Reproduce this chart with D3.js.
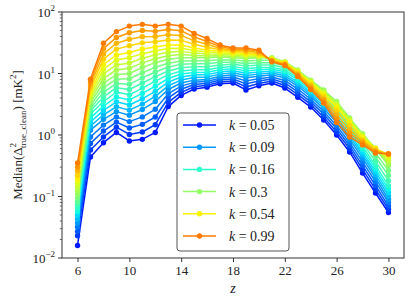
<!DOCTYPE html>
<html>
<head>
<meta charset="utf-8">
<script src="https://cdn.jsdelivr.net/npm/d3@7"></script>
<style>
  body { margin: 0; background: #fff; }
  svg { display: block; }
  text { font-family: "Liberation Serif", "DejaVu Serif", serif; fill: #222; }
</style>
</head>
<body>
<svg id="chart" width="411" height="303"></svg>
<script>
"use strict";

// redshift bins (x axis)
const zValues = [6, 7, 8, 9, 10, 11, 12, 13, 14, 15, 16, 17, 18, 19, 20, 21, 22, 23, 24, 25, 26, 27, 28, 29, 30];

// k bins, one line each (legend shows every 4th)
const kValues = [0.05, 0.058, 0.067, 0.078, 0.09, 0.105, 0.122, 0.142, 0.16, 0.19, 0.22,
                 0.26, 0.3, 0.35, 0.4, 0.47, 0.54, 0.63, 0.73, 0.85, 0.99];
const legendIndex = [0, 4, 8, 12, 16, 20];
const legendLabels = ["0.05", "0.09", "0.16", "0.3", "0.54", "0.99"];

// tick labels
const xTicks = [6, 10, 14, 18, 22, 26, 30];
const yTickExponents = [-2, -1, 0, 1, 2];

// median power per k bin (z = 6 .. 30)
const med00 = [0.016, 0.44, 0.75, 1.1, 0.8, 0.85, 1.1, 2.9, 4.4, 5.6, 6, 6.8, 7, 5.4, 6.3, 7, 5.8, 4.1, 2.85, 1.75, 1.0, 0.53, 0.24, 0.114, 0.055];
const med01 = [0.023, 0.57, 0.93, 1.34, 1.02, 1.12, 1.47, 3.4, 4.94, 6.08, 6.45, 7.3, 7.56, 6.05, 6.89, 7.56, 6.38, 4.55, 3.14, 1.95, 1.12, 0.6, 0.276, 0.131, 0.062];
const med02 = [0.027, 0.73, 1.16, 1.62, 1.3, 1.49, 1.96, 4.0, 5.55, 6.61, 6.93, 7.83, 8.15, 6.78, 7.53, 8.15, 7.02, 5.04, 3.46, 2.17, 1.26, 0.67, 0.318, 0.151, 0.07];
const med03 = [0.032, 0.93, 1.45, 1.97, 1.65, 1.97, 2.62, 4.69, 6.23, 7.18, 7.45, 8.4, 8.8, 7.59, 8.23, 8.8, 7.72, 5.59, 3.81, 2.42, 1.42, 0.75, 0.365, 0.174, 0.08];
const med04 = [0.037, 1.2, 1.8, 2.4, 2.1, 2.6, 3.5, 5.5, 7, 7.8, 8, 9, 9.5, 8.5, 9, 9.5, 8.5, 6.2, 4.2, 2.7, 1.6, 0.85, 0.42, 0.2, 0.09];
const med05 = [0.043, 1.4, 2.13, 2.88, 2.54, 3.18, 4.24, 6.3, 7.84, 8.6, 8.76, 9.77, 10.3, 9.27, 9.77, 10.2, 9.17, 6.71, 4.55, 2.94, 1.77, 0.95, 0.47, 0.225, 0.102];
const med06 = [0.05, 1.63, 2.51, 3.46, 3.07, 3.88, 5.13, 7.23, 8.78, 9.47, 9.59, 10.6, 11.1, 10.1, 10.6, 10.9, 9.9, 7.26, 4.94, 3.2, 1.96, 1.05, 0.52, 0.253, 0.116];
const med07 = [0.057, 1.9, 2.96, 4.16, 3.72, 4.75, 6.2, 8.29, 9.83, 10.4, 10.5, 11.5, 12, 11, 11.5, 11.7, 10.7, 7.86, 5.35, 3.49, 2.17, 1.17, 0.58, 0.285, 0.132];
const med08 = [0.065, 2.2, 3.5, 5, 4.5, 5.8, 7.5, 9.5, 11, 11.5, 11.5, 12.5, 13, 12, 12.5, 12.5, 11.5, 8.5, 5.8, 3.8, 2.4, 1.3, 0.65, 0.32, 0.15];
const med09 = [0.074, 2.45, 4.16, 5.87, 5.5, 7.0, 8.9, 11, 12.4, 12.9, 12.9, 13.8, 14.1, 13.2, 13.7, 13.7, 12.4, 9.15, 6.25, 4.15, 2.64, 1.43, 0.73, 0.374, 0.18];
const med10 = [0.083, 2.73, 4.95, 6.89, 6.7, 8.5, 10.6, 12.7, 14.1, 14.4, 14.4, 15.2, 15.3, 14.5, 15, 15, 13.3, 9.84, 6.73, 4.53, 2.9, 1.57, 0.83, 0.438, 0.22];
const med11 = [0.095, 3.05, 5.9, 8.09, 8.2, 10.3, 12.6, 14.7, 15.9, 16.1, 16.1, 16.8, 16.6, 15.9, 16.4, 16.4, 14.4, 10.6, 7.24, 4.95, 3.18, 1.73, 0.93, 0.513, 0.265];
const med12 = [0.11, 3.4, 7, 9.5, 10, 12.5, 15, 17, 18, 18, 18, 18.5, 18, 17.5, 18, 18, 15.5, 11.4, 7.8, 5.4, 3.5, 1.9, 1.05, 0.6, 0.32];
const med13 = [0.125, 3.78, 8.3, 11.4, 12.2, 14.9, 17.4, 19.4, 20.3, 19.7, 19.3, 19.5, 18.9, 18.3, 18.5, 17.7, 15.4, 11.2, 7.6, 5.16, 3.31, 1.82, 1.01, 0.61, 0.35];
const med14 = [0.145, 4.2, 9.9, 13.8, 14.8, 17.7, 20.1, 22.2, 22.9, 21.6, 20.8, 20.6, 19.9, 19.2, 19, 17.5, 15.25, 10.9, 7.4, 4.93, 3.13, 1.74, 0.97, 0.61, 0.39];
const med15 = [0.165, 4.67, 11.8, 16.6, 18.1, 21, 23.3, 25.4, 25.7, 23.7, 22.3, 21.8, 20.9, 20.1, 19.5, 17.2, 15.1, 10.7, 7.2, 4.71, 2.96, 1.67, 0.94, 0.6, 0.43];
const med16 = [0.19, 5.2, 14, 20, 22, 25, 27, 29, 29, 26, 24, 23, 22, 21, 20, 17, 15, 10.5, 7, 4.5, 2.8, 1.6, 0.9, 0.6, 0.48];
const med17 = [0.22, 5.8, 17.1, 24.9, 28.2, 31.5, 32.8, 35.2, 34.6, 29.8, 26.7, 24.4, 22.9, 22.2, 20.9, 16.6, 14.6, 10.1, 6.59, 4.16, 2.43, 1.4, 0.84, 0.58, 0.48];
const med18 = [0.26, 6.5, 20.8, 31, 36, 39.7, 39.9, 42.7, 41.3, 34.2, 29.8, 25.8, 23.9, 23.4, 21.9, 16.2, 14.2, 9.67, 6.21, 3.85, 2.12, 1.22, 0.79, 0.55, 0.49];
const med19 = [0.30, 7.25, 25.4, 38.6, 46.1, 50, 48.5, 51.9, 49.4, 39.2, 33.2, 27.4, 24.9, 24.7, 22.9, 15.9, 13.9, 9.28, 5.84, 3.57, 1.84, 1.06, 0.74, 0.53, 0.49];
const med20 = [0.35, 8.1, 31, 48, 59, 63, 59, 63, 59, 45, 37, 29, 26, 26, 24, 15.5, 13.5, 8.9, 5.5, 3.3, 1.6, 0.93, 0.69, 0.51, 0.49];

const seriesValues = [med00, med01, med02, med03, med04, med05, med06, med07, med08, med09, med10,
                      med11, med12, med13, med14, med15, med16, med17, med18, med19, med20];

// matplotlib 'jet' colormap, piecewise linear per channel
const jetChannel = function (pts) {
    return d3.scaleLinear().domain(pts.map(p => p[0])).range(pts.map(p => p[1])).clamp(true);
};
const jetR = jetChannel([[0, 0], [0.35, 0], [0.66, 1], [0.89, 1], [1, 0.5]]);
const jetG = jetChannel([[0, 0], [0.125, 0], [0.375, 1], [0.64, 1], [0.91, 0], [1, 0]]);
const jetB = jetChannel([[0, 0.5], [0.11, 1], [0.34, 1], [0.65, 0], [1, 0]]);
function jet(t) {
    return d3.rgb(jetR(t) * 255, jetG(t) * 255, jetB(t) * 255).formatHex();
}
// the lines use the part of jet from blue to orange
const colorT = d3.scaleLinear().domain([0, kValues.length - 1]).range([0.15, 0.78]);

const svg = d3.select("#chart");

const margin = { left: 62, top: 12, right: 7, bottom: 45 };
const width = 411 - margin.left - margin.right;
const height = 303 - margin.top - margin.bottom;

const x = d3.scaleLinear().domain([4.8, 31.2]).range([margin.left, margin.left + width]);
const y = d3.scaleLog().domain([1e-2, 1e2]).range([margin.top + height, margin.top]);

// lines + markers
const line = d3.line()
    .x((d, i) => x(zValues[i]))
    .y(d => y(d));

const plot = svg.append("g");
seriesValues.forEach(function (vals, i) {
    const c = jet(colorT(i));
    const g = plot.append("g");
    g.append("path")
        .attr("d", line(vals))
        .attr("fill", "none")
        .attr("stroke", c)
        .attr("stroke-width", 1.5)
        .attr("stroke-linejoin", "round");
    g.selectAll("circle")
        .data(vals)
        .enter()
        .append("circle")
        .attr("cx", (d, j) => x(zValues[j]))
        .attr("cy", d => y(d))
        .attr("r", 2.7)
        .attr("fill", c);
});

// frame
svg.append("rect")
    .attr("x", margin.left).attr("y", margin.top)
    .attr("width", width).attr("height", height)
    .attr("fill", "none").attr("stroke", "#333").attr("stroke-width", 1);

// x axis
const xAxis = svg.append("g")
    .attr("transform", "translate(0," + (margin.top + height) + ")")
    .call(d3.axisBottom(x).tickValues(xTicks).tickSize(4).tickPadding(4).tickFormat(d3.format("d")));
xAxis.select(".domain").remove();
xAxis.selectAll("line").attr("stroke", "#333");
xAxis.selectAll("text").attr("font-size", 13).attr("font-family", "Liberation Serif").attr("fill", "#222");

// y axis: major ticks at powers of ten, minor at 2..9
const yMajor = yTickExponents.map(e => Math.pow(10, e));
const yMinor = y.ticks().filter(v => yMajor.every(m => Math.abs(v / m - 1) > 1e-6));
const yAxisG = svg.append("g");
yAxisG.selectAll("line.minor")
    .data(yMinor).enter().append("line")
    .attr("x1", margin.left - 2.2).attr("x2", margin.left)
    .attr("y1", d => y(d)).attr("y2", d => y(d))
    .attr("stroke", "#333").attr("stroke-width", 0.7);
yAxisG.selectAll("line.major")
    .data(yMajor).enter().append("line")
    .attr("x1", margin.left - 4).attr("x2", margin.left)
    .attr("y1", d => y(d)).attr("y2", d => y(d))
    .attr("stroke", "#333").attr("stroke-width", 1);
const yLab = yAxisG.selectAll("text.ytick")
    .data(yTickExponents).enter().append("text")
    .attr("x", margin.left - 7)
    .attr("y", e => y(Math.pow(10, e)) + 5)
    .attr("text-anchor", "end")
    .attr("font-size", 13);
yLab.append("tspan").text("10");
yLab.append("tspan")
    .attr("font-size", 9)
    .attr("dy", -6)
    .text(e => e < 0 ? "\u2212" + Math.abs(e) : String(e));

// axis labels
svg.append("text")
    .attr("x", x(18))
    .attr("y", 293)
    .attr("text-anchor", "middle")
    .attr("font-size", 14)
    .attr("font-style", "italic")
    .text("z");

const yl = svg.append("text")
    .attr("transform", "translate(22," + (margin.top + height / 2) + ") rotate(-90)")
    .attr("text-anchor", "middle")
    .attr("font-size", 13);
yl.append("tspan").text("Median(\u0394");
yl.append("tspan").attr("font-size", 9).attr("dy", -6).text("2");
yl.append("tspan").attr("font-size", 9).attr("dx", -5).attr("dy", 10).text("true_clean");
yl.append("tspan").attr("dy", -4).text(") [mK");
yl.append("tspan").attr("font-size", 9).attr("dy", -6).text("2");
yl.append("tspan").attr("dy", 6).text("]");

// legend
const legend = svg.append("g").attr("transform", "translate(177,113)");
legend.append("rect")
    .attr("width", 112).attr("height", 138)
    .attr("rx", 3).attr("ry", 3)
    .attr("fill", "#fff").attr("fill-opacity", 0.9)
    .attr("stroke", "#555").attr("stroke-width", 1);
const item = legend.selectAll("g.item")
    .data(legendIndex).enter().append("g")
    .attr("transform", (d, i) => "translate(0," + (12 + i * 22.2) + ")");
item.append("line")
    .attr("x1", 6).attr("x2", 39).attr("y1", 0).attr("y2", 0)
    .attr("stroke", d => jet(colorT(d))).attr("stroke-width", 1.5);
item.append("circle")
    .attr("cx", 22.5).attr("cy", 0).attr("r", 2.7)
    .attr("fill", d => jet(colorT(d)));
const itemText = item.append("text")
    .attr("x", 52).attr("y", 5)
    .attr("font-size", 14);
itemText.append("tspan").attr("font-style", "italic").text("k");
itemText.append("tspan").text((d, i) => " = " + legendLabels[i]);
</script>
</body>
</html>
